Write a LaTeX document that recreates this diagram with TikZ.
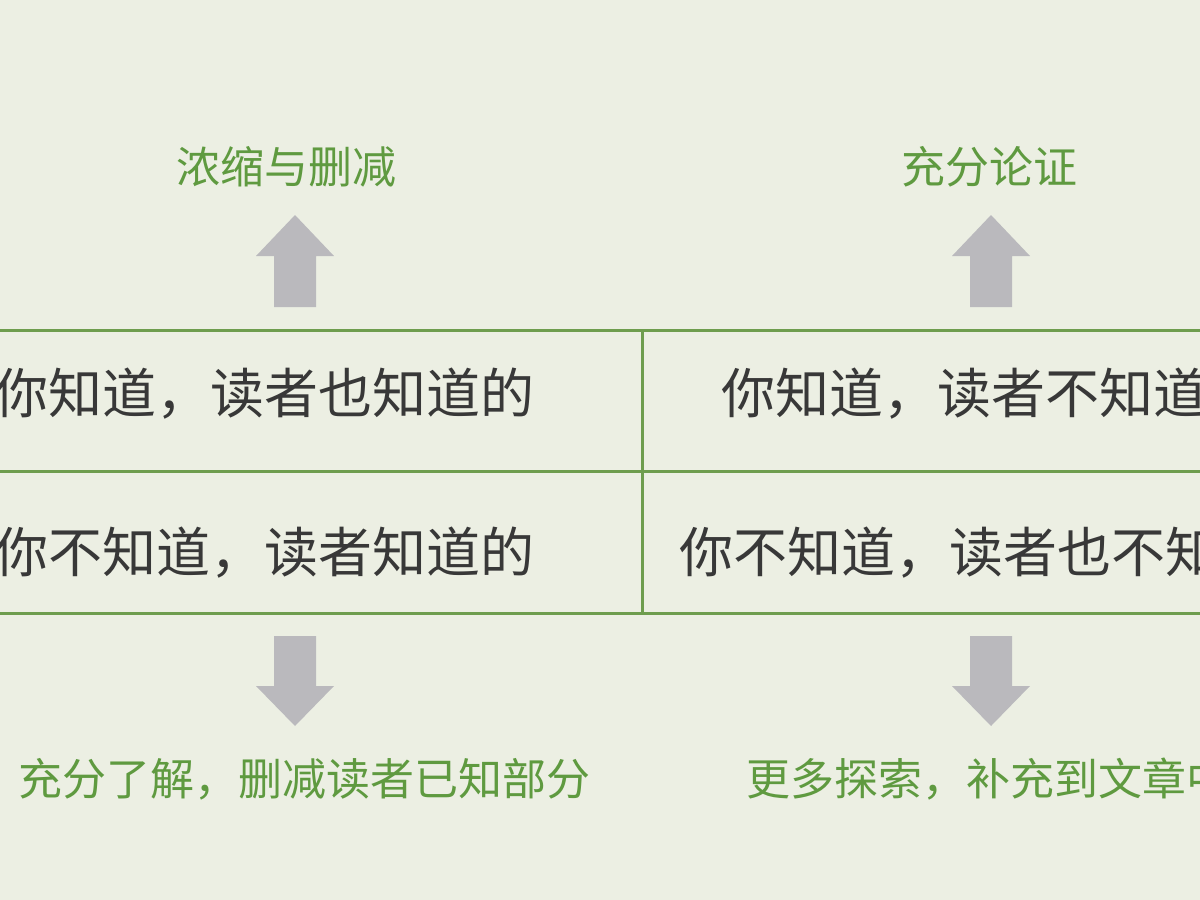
\documentclass[tikz,border=0pt]{standalone}
\usepackage{fontspec}
\setmainfont{Liberation Sans}
\newfontfamily\cjk{Noto Sans CJK SC}
\definecolor{bgc}{HTML}{ECEFE3}
\definecolor{gridc}{HTML}{6E9D4E}
\definecolor{greentxt}{HTML}{5F9A40}
\definecolor{arrc}{HTML}{BAB9BD}
\tikzset{
  cell/.style={anchor=base west, inner sep=0pt, font=\cjk\fontsize{54}{60}\selectfont, text=black!78},
  note/.style={anchor=base, inner sep=0pt, font=\cjk\fontsize{44}{50}\selectfont, text=greentxt},
  notew/.style={anchor=base west, inner sep=0pt, font=\cjk\fontsize{44}{50}\selectfont, text=greentxt},
  gridline/.style={draw=gridc, line width=3pt},
  blockarrow/.style={fill=arrc, draw=none}
}
\begin{document}
\begin{tikzpicture}[x=1pt,y=-1pt]
\fill[bgc] (0,0) rectangle (1200,900);
\useasboundingbox (0,0) rectangle (1200,900);
% grid
\coordinate (tl) at (0,330);
\coordinate (tr) at (1200,330);
\coordinate (ml) at (0,471);
\coordinate (mr) at (1200,471);
\coordinate (bl) at (0,613);
\coordinate (br) at (1200,613);
\coordinate (vt) at (642,330);
\coordinate (vb) at (642,613);
\draw[gridline] (tl) -- (tr);
\draw[gridline] (ml) -- (mr);
\draw[gridline] (bl) -- (br);
\draw[gridline] (vt) -- (vb);
% cell texts
\node[cell] (c11) at (-6,413) {你知道，读者也知道的};
\node[cell] (c12) at (721,413) {你知道，读者不知道的};
\node[cell] (c21) at (-6,572) {你不知道，读者知道的};
\node[cell] (c22) at (679,572) {你不知道，读者也不知道的};
% top notes
\node[note] (n1) at (286,183) {浓缩与删减};
\node[note] (n2) at (989,183) {充分论证};
% bottom notes
\node[notew] (n3) at (18,795) {充分了解，删减读者已知部分};
\node[notew] (n4) at (746,795) {更多探索，补充到文章中};
% up arrows
\fill[blockarrow] (274,307) -- (316,307) -- (316,256) -- (334,256) -- (295,215) -- (256,256) -- (274,256) -- cycle;
\fill[blockarrow] (970,307) -- (1012,307) -- (1012,256) -- (1030,256) -- (991,215) -- (952,256) -- (970,256) -- cycle;
% down arrows
\fill[blockarrow] (274,636) -- (316,636) -- (316,686) -- (334,686) -- (295,726) -- (256,686) -- (274,686) -- cycle;
\fill[blockarrow] (970,636) -- (1012,636) -- (1012,686) -- (1030,686) -- (991,726) -- (952,686) -- (970,686) -- cycle;
\end{tikzpicture}
\end{document}
